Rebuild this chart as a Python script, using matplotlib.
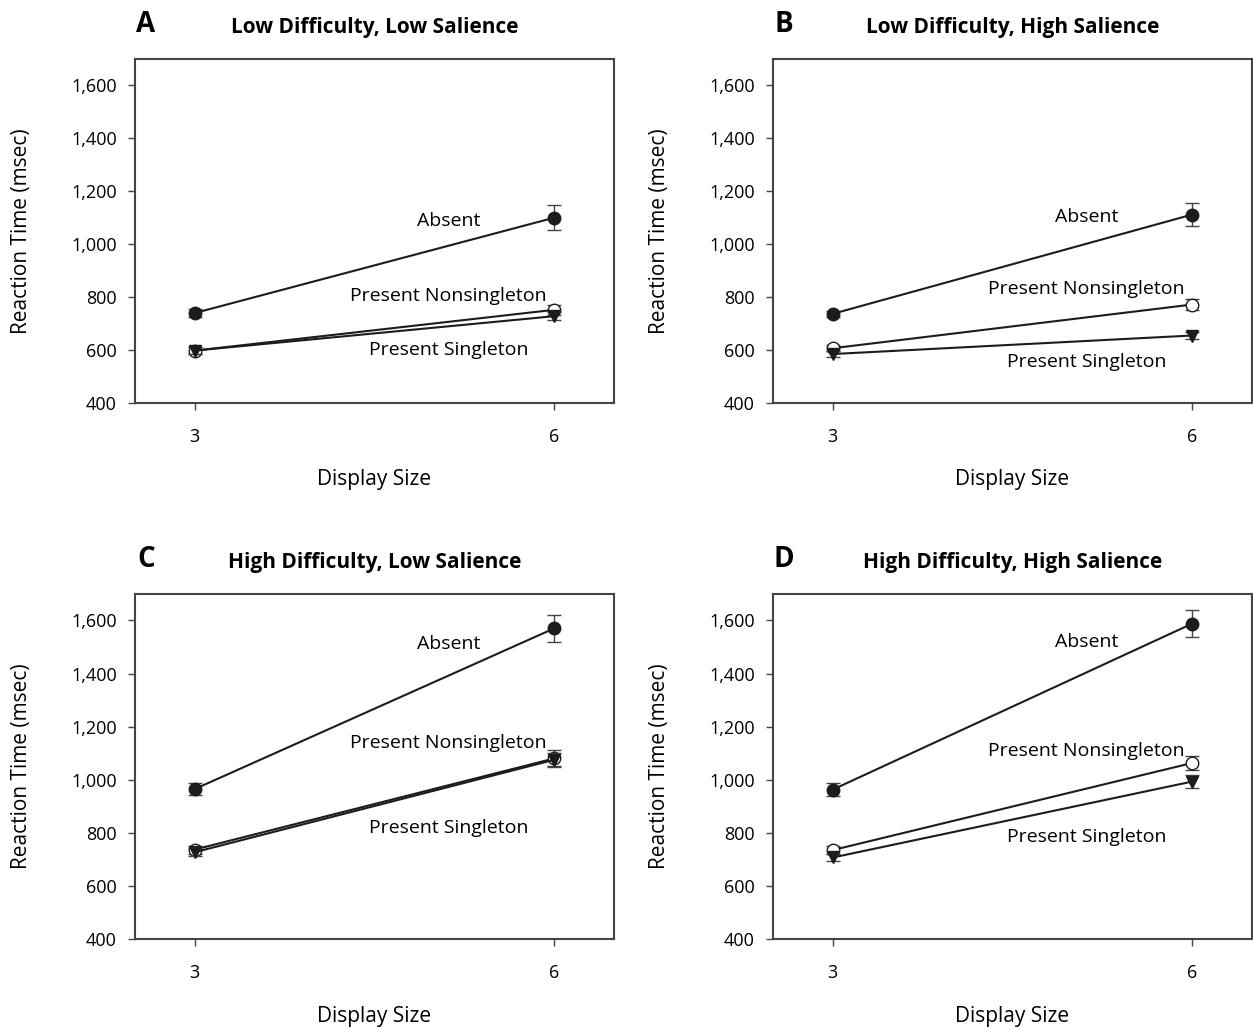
import matplotlib.pyplot as plt
import matplotlib.ticker as mticker

plt.rcParams['font.family'] = ['Open Sans', 'DejaVu Sans']

display_size = [3, 6]

panel_letters = ["A", "B", "C", "D"]
panel_titles = ["Low Difficulty, Low Salience", "Low Difficulty, High Salience",
                "High Difficulty, Low Salience", "High Difficulty, High Salience"]

# mean RT (msec) per panel, for display size 3 and 6
absent = [[740, 1100], [737, 1112], [965, 1570], [963, 1588]]
nonsingleton = [[598, 752], [607, 772], [737, 1080], [735, 1063]]
singleton = [[598, 728], [585, 655], [727, 1075], [707, 993]]

absent_err = [[14, 47], [12, 45], [22, 50], [25, 50]]
nonsingleton_err = [[12, 20], [12, 22], [15, 32], [15, 25]]
singleton_err = [[12, 15], [10, 12], [15, 25], [12, 25]]

# label positions (display size, RT) per panel
absent_lbl = [[5.12, 1086], [5.12, 1101], [5.12, 1510], [5.12, 1518]]
nonsing_lbl = [[5.12, 805], [5.12, 831], [5.12, 1138], [5.12, 1107]]
sing_lbl = [[5.12, 600], [5.12, 556], [5.12, 818], [5.12, 784]]

fig = plt.figure(figsize=(12.53, 10.27), dpi=100)

positions = [[0.1077, 0.6076, 0.3823, 0.335], [0.6169, 0.6076, 0.3823, 0.335],
             [0.1077, 0.0857, 0.3823, 0.336], [0.6169, 0.0857, 0.3823, 0.336]]

dark = "#1c1c1c"

for i in range(4):
    ax = fig.add_axes(positions[i])
    ax.errorbar(display_size, absent[i], yerr=absent_err[i], color=dark, lw=1.5,
                marker="o", ms=9, mfc=dark, mec=dark, ecolor="#444444",
                elinewidth=1, capsize=5, zorder=3)
    ax.errorbar(display_size, nonsingleton[i], yerr=nonsingleton_err[i], color=dark, lw=1.5,
                marker="o", ms=9, mfc="white", mec=dark, ecolor="#444444",
                elinewidth=1, capsize=5, zorder=3)
    ax.errorbar(display_size, singleton[i], yerr=singleton_err[i], color=dark, lw=1.5,
                marker="v", ms=8, mfc=dark, mec=dark, ecolor="#444444",
                elinewidth=1, capsize=5, zorder=4)

    ax.text(absent_lbl[i][0], absent_lbl[i][1], "Absent", ha="center", va="center", fontsize=14)
    ax.text(nonsing_lbl[i][0], nonsing_lbl[i][1], "Present Nonsingleton", ha="center", va="center", fontsize=14)
    ax.text(sing_lbl[i][0], sing_lbl[i][1], "Present Singleton", ha="center", va="center", fontsize=14)

    ax.set_xlim(2.5, 6.5)
    ax.set_ylim(400, 1700)
    ax.set_xticks(display_size)
    ax.set_yticks(range(400, 1601, 200))
    ax.yaxis.set_major_formatter(mticker.FuncFormatter(lambda v, p: "{:,}".format(int(v))))
    ax.tick_params(labelsize=13, length=5, width=1, color="#444444")
    ax.tick_params(axis="x", pad=13)
    ax.tick_params(axis="y", pad=8)
    for s in ax.spines.values():
        s.set_color("#444444")
        s.set_linewidth(1.5)

    ax.set_xlabel("Display Size", fontsize=15)
    ax.xaxis.set_label_coords(0.5, -0.193)
    ax.set_ylabel("Reaction Time (msec)", fontsize=15)
    ax.yaxis.set_label_coords(-0.215, 0.5)

    ax.set_title(panel_titles[i], fontsize=15, fontweight="bold", pad=19)
    ax.text(0.023, 1.1, panel_letters[i], transform=ax.transAxes, ha="center", va="center",
            fontsize=20, fontweight="bold")

fig.savefig("out.png", dpi=100)
